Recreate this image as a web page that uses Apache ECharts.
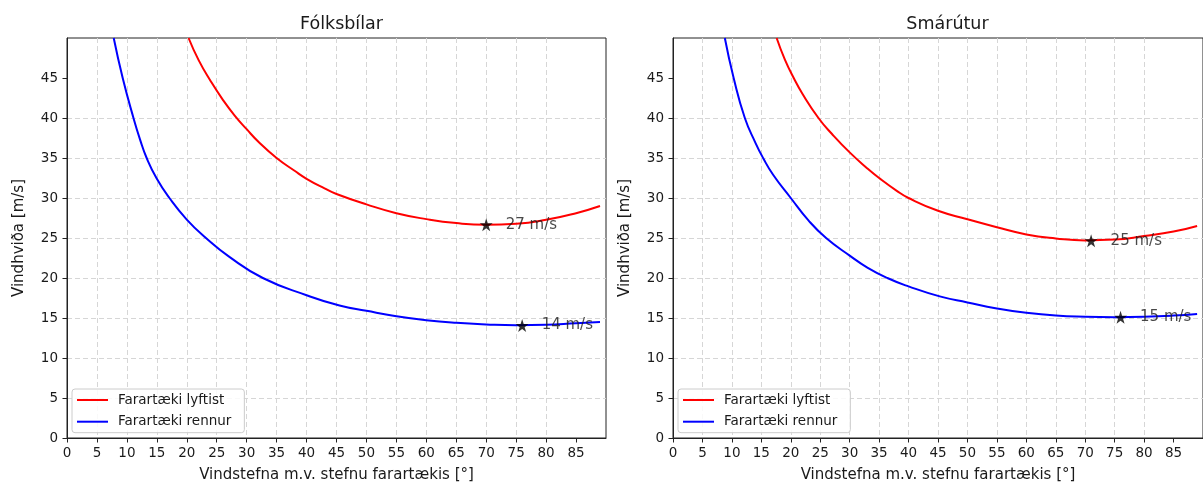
<!DOCTYPE html>
<html><head><meta charset="utf-8">
<script src="https://cdn.jsdelivr.net/npm/echarts@6/dist/echarts.min.js"></script>
<style>html,body{margin:0;padding:0;background:#fff}#c{width:1203px;height:488px}</style>
</head><body><div id="c"></div>
<script>
// ---- data ----
const panelTitles = ['Fólksbílar', 'Smárútur'];
const seriesNames = ['Farartæki lyftist', 'Farartæki rennur'];
const xAxisTitle = 'Vindstefna m.v. stefnu farartækis [°]';
const yAxisTitle = 'Vindhviða [m/s]';
const xTickValues = [0,5,10,15,20,25,30,35,40,45,50,55,60,65,70,75,80,85];
const yTickValues = [0,5,10,15,20,25,30,35,40,45];

const carLiftAngle  = [20.3, 22, 24, 26, 28, 30, 32, 35, 38, 40, 43, 45, 50, 55, 60, 65, 70, 75, 80, 85, 89];
const carLiftSpeed  = [50, 47.2, 44.6, 42.3, 40.3, 38.6, 37.0, 35.0, 33.4, 32.4, 31.2, 30.5, 29.2, 28.1, 27.36, 26.86, 26.65, 26.77, 27.27, 28.1, 29.0];
const carSlideAngle = [7.8, 9.3, 11.1, 12.2, 13.3, 15, 17.1, 20, 23.2, 27, 32.7, 40, 45.5, 50, 55, 60, 65, 70, 75, 80, 85, 89];
const carSlideSpeed = [50, 45, 40, 37.3, 35, 32.4, 30, 27.3, 25, 22.7, 20, 17.85, 16.56, 15.9, 15.23, 14.73, 14.4, 14.2, 14.1, 14.15, 14.35, 14.5];
const vanLiftAngle  = [17.6, 19, 20.5, 22, 24.7, 27, 30, 33, 35, 38, 40, 45, 50, 55, 60, 65, 70, 75, 80, 85, 89];
const vanLiftSpeed  = [50, 47.3, 45, 43, 40, 38, 35.7, 33.7, 32.5, 30.9, 30.0, 28.4, 27.35, 26.35, 25.45, 24.95, 24.7, 24.8, 25.25, 25.8, 26.5];
const vanSlideAngle = [8.8, 10.3, 12.2, 14, 15.3, 17, 20, 23, 26, 30, 33, 36.4, 40, 45.3, 50, 55, 60, 65, 70, 75, 80, 85, 89];
const vanSlideSpeed = [50, 45, 40, 36.9, 35, 32.9, 30, 27.2, 25, 22.8, 21.3, 20, 18.95, 17.7, 16.95, 16.2, 15.65, 15.3, 15.15, 15.1, 15.15, 15.3, 15.5];

const carStarAngle = [70, 76];
const carStarSpeed = [26.65, 14.05];
const carStarLabel = ['27 m/s', '14 m/s'];
const vanStarAngle = [71, 76];
const vanStarSpeed = [24.65, 15.1];
const vanStarLabel = ['25 m/s', '15 m/s'];

// ---- build ----
const FONT = 'DejaVu Sans';
const TXT = '#1a1a1a';
const COLORS = ['#ff0000', '#0000ff'];
const STAR = 'path://M50,0 L61.2,34.5 L97.6,34.5 L68.2,55.9 L79.4,90.5 L50,69.1 L20.6,90.5 L31.8,55.9 L2.4,34.5 L38.8,34.5 Z';
const zip = (a, b) => a.map((v, i) => [v, b[i]]);

const panels = [
  {lift: zip(carLiftAngle, carLiftSpeed), slide: zip(carSlideAngle, carSlideSpeed),
   stars: carStarAngle.map((a, i) => ({value: [a, carStarSpeed[i]], name: carStarLabel[i]}))},
  {lift: zip(vanLiftAngle, vanLiftSpeed), slide: zip(vanSlideAngle, vanSlideSpeed),
   stars: vanStarAngle.map((a, i) => ({value: [a, vanStarSpeed[i]], name: vanStarLabel[i]}))}
];
const gridLeft = [67, 673];
const gridW = 539, gridTop = 38, gridH = 402;

const splitLine = {show: true, showMinLine: false, showMaxLine: false,
  lineStyle: {color: '#d6d6d6', type: [5, 3], width: 1}};

const option = {
  animation: false,
  backgroundColor: '#fff',
  textStyle: {fontFamily: FONT},
  title: panelTitles.map((t, i) => ({
    text: t, left: gridLeft[i] + gridW / 2, top: 10, textAlign: 'center',
    textStyle: {fontFamily: FONT, fontSize: 17.5, fontWeight: 'normal', color: TXT}
  })),
  grid: gridLeft.map(l => ({left: l, top: gridTop, width: gridW, height: gridH,
    show: true, borderColor: '#222', borderWidth: 1, backgroundColor: '#fff'})),
  xAxis: gridLeft.map((l, i) => ({
    type: 'value', gridIndex: i, min: 0, max: 90, interval: 5,
    name: xAxisTitle, nameLocation: 'middle', nameGap: 30,
    nameTextStyle: {fontFamily: FONT, fontSize: 15, color: TXT},
    axisLine: {show: true, onZero: false, lineStyle: {color: '#222', width: 1}},
    axisTick: {show: true, inside: false, length: 4.5, lineStyle: {color: '#222'}, customValues: xTickValues},
    axisLabel: {show: true, margin: 8, fontFamily: FONT, fontSize: 13.5, color: TXT, customValues: xTickValues},
    splitLine: splitLine
  })),
  yAxis: gridLeft.map((l, i) => ({
    type: 'value', gridIndex: i, min: 0, max: 50, interval: 5,
    name: yAxisTitle, nameLocation: 'middle', nameGap: 40, nameRotate: 90,
    nameTextStyle: {fontFamily: FONT, fontSize: 15, color: TXT},
    axisLine: {show: true, onZero: false, lineStyle: {color: '#222', width: 1}},
    axisTick: {show: true, inside: false, length: 4.5, lineStyle: {color: '#222'}, customValues: yTickValues},
    axisLabel: {show: true, margin: 9, fontFamily: FONT, fontSize: 13.5, color: TXT, customValues: yTickValues},
    splitLine: splitLine
  })),
  legend: gridLeft.map(l => ({
    orient: 'vertical', left: l + 5, top: 389, data: seriesNames,
    itemWidth: 31, itemHeight: 14, itemGap: 7.7, padding: [4, 13, 4, 4],
    borderColor: '#cccccc', borderWidth: 1, borderRadius: 3,
    backgroundColor: 'rgba(255,255,255,0.85)', selectedMode: false,
    itemStyle: {opacity: 0},
    textStyle: {fontFamily: FONT, fontSize: 13.5, color: TXT, padding: [0, 0, 0, 5]}
  })),
  series: []
};

panels.forEach((p, i) => {
  [p.lift, p.slide].forEach((d, k) => {
    option.series.push({
      type: 'line', name: seriesNames[k], xAxisIndex: i, yAxisIndex: i, data: d,
      symbol: 'none', showSymbol: false, smooth: 0.5, clip: true,
      lineStyle: {color: COLORS[k], width: 2}, itemStyle: {color: COLORS[k]}, z: 3
    });
  });
  option.series.push({
    type: 'scatter', name: 'stars' + i, xAxisIndex: i, yAxisIndex: i, data: p.stars,
    symbol: STAR, symbolSize: 13, itemStyle: {color: '#000'}, z: 5,
    label: {show: true, position: 'right', distance: 13, formatter: '{b}',
      fontFamily: FONT, fontSize: 15, color: TXT}
  });
});

const chart = echarts.init(document.getElementById('c'), null, {renderer: 'canvas'});
chart.setOption(option);
</script>
</body></html>
